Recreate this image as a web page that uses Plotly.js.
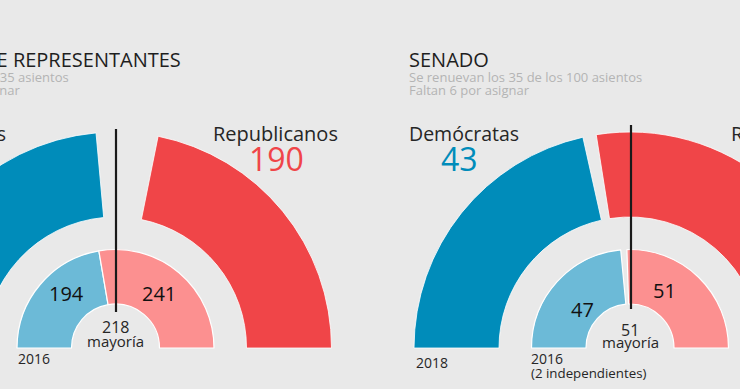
<!DOCTYPE html>
<html>
<head>
<meta charset="utf-8">
<script src="https://cdn.plot.ly/plotly-3.0.1.min.js"></script>
<style>
html,body{margin:0;padding:0;width:740px;height:389px;overflow:hidden;background:#e9e9e9;}
#chart{position:absolute;left:-220px;top:0;width:1100px;height:600px;}
</style>
</head>
<body>
<div id="chart"></div>
<script>
// ---- data ----
const seatLabels = ['Demócratas', 'Sin asignar', 'Republicanos'];
const house2018 = [205, 40, 190];
const house2016 = [194, 0, 241];
const houseMajority = 218;
const senate2018 = [43, 2, 55];
const senate2016 = [47, 2, 51];
const senateMajority = 51;

// ---- geometry helpers (page pixels -> paper of the larger canvas) ----
const L = 220, W = 1100, H = 600;
const px = x => (x + L) / W;
const py = y => 1 - y / H;
function dom(cx, cy, r) { return {x: [px(cx - r), px(cx + r)], y: [py(cy + r), py(cy - r)]}; }

const HC = [115.5, 348], SC = [630, 348];
const R_OUT = 216, HOLE_OUT = 131 / 216;
const R_IN = 98.5, HOLE_IN = 44 / 98.5;

const cD18 = '#008cba', cR18 = '#f04548', cD16 = '#6cbad7', cR16 = '#fc9090';
const clear = 'rgba(0,0,0,0)';

function half(vals, c1, c2, d, hole, lw) {
  const total = vals.reduce((a, b) => a + b, 0);
  return {
    type: 'pie',
    values: vals.concat([total]),
    labels: seatLabels.concat(['oculto']),
    sort: false, direction: 'clockwise', rotation: -90,
    hole: hole, domain: d, textinfo: 'none', hoverinfo: 'skip', showlegend: false,
    marker: {colors: [c1, clear, c2, clear],
             line: {color: ['#ffffff', clear, '#ffffff', clear], width: [lw, 0, lw, 0]}}
  };
}

const data = [
  half(house2018, cD18, cR18, dom(HC[0], HC[1], R_OUT), HOLE_OUT, 0.8),
  half(house2016, cD16, cR16, dom(HC[0], HC[1], R_IN), HOLE_IN, 1.2),
  half(senate2018, cD18, cR18, dom(SC[0], SC[1], R_OUT), HOLE_OUT, 0.8),
  half(senate2016, cD16, cR16, dom(SC[0], SC[1], R_IN), HOLE_IN, 1.2)
];

const F = 'Open Sans, Noto Sans, sans-serif';
function ann(text, x, y, size, color, xa) {
  return {text: text, x: px(x), y: py(y), xref: 'paper', yref: 'paper',
          xanchor: xa || 'center', yanchor: 'middle', showarrow: false,
          font: {family: F, size: size, color: color}};
}
const dark = '#1e1e1e', sub = '#b4b4b4', txt = '#262626';

const annotations = [
  ann('CÁMARA DE REPRESENTANTES', 183, 60, 20, dark, 'right'),
  ann('Se renuevan los 435 de los 435 asientos', 71, 77.5, 13, sub, 'right'),
  ann('Faltan ' + house2018[1] + ' escaños por asignar', 22, 89.5, 13, sub, 'right'),
  ann('SENADO', 407, 60, 20, dark, 'left'),
  ann('Se renuevan los 35 de los 100 asientos', 407, 77.5, 13, sub, 'left'),
  ann('Faltan 6 por asignar', 407, 90, 13, sub, 'left'),

  ann(seatLabels[0], 7.5, 133, 19.5, txt, 'right'),
  ann(String(house2018[0]), -46, 158.5, 32, cD18, 'center'),
  ann(seatLabels[2], 275.5, 133, 20, txt, 'center'),
  ann(String(house2018[2]), 276, 158.5, 32, cR18, 'center'),
  ann(String(house2016[0]), 66.5, 293, 20, '#111', 'center'),
  ann(String(house2016[2]), 159, 293, 20, '#111', 'center'),
  ann(String(houseMajority), 115, 326.5, 16, txt, 'center'),
  ann('mayoría', 115.5, 340.5, 15, txt, 'center'),
  ann('2016', 16, 358, 14, txt, 'left'),

  ann(seatLabels[0], 463.5, 133, 19.5, txt, 'center'),
  ann(String(senate2018[0]), 459.5, 158.5, 32, cD18, 'center'),
  ann(seatLabels[2], 729, 133, 20, txt, 'left'),
  ann(String(senate2018[2]), 792, 158.5, 32, cR18, 'center'),
  ann(String(senate2016[0]), 582.5, 309.5, 20, '#111', 'center'),
  ann(String(senate2016[2]), 664, 290.5, 20, '#111', 'center'),
  ann(String(senateMajority), 630, 330, 16, txt, 'center'),
  ann('mayoría', 630, 341.5, 15, txt, 'center'),
  ann('2018', 414, 362.5, 14, txt, 'left'),
  ann('2016', 529, 358, 14, txt, 'left'),
  ann('(2 independientes)', 529, 373, 13.3, txt, 'left')
];

const shapes = [
  {type: 'line', xref: 'paper', yref: 'paper', x0: px(116), x1: px(116), y0: py(129), y1: py(312),
   line: {color: '#1a1a1a', width: 2.2}},
  {type: 'line', xref: 'paper', yref: 'paper', x0: px(631), x1: px(631), y0: py(125), y1: py(309),
   line: {color: '#1a1a1a', width: 2.2}}
];

const layout = {
  width: W, height: H,
  margin: {l: 0, r: 0, t: 0, b: 0, pad: 0},
  paper_bgcolor: '#e9e9e9', plot_bgcolor: '#e9e9e9',
  showlegend: false,
  annotations: annotations, shapes: shapes
};

Plotly.newPlot('chart', data, layout, {staticPlot: true, displayModeBar: false});
</script>
</body>
</html>
